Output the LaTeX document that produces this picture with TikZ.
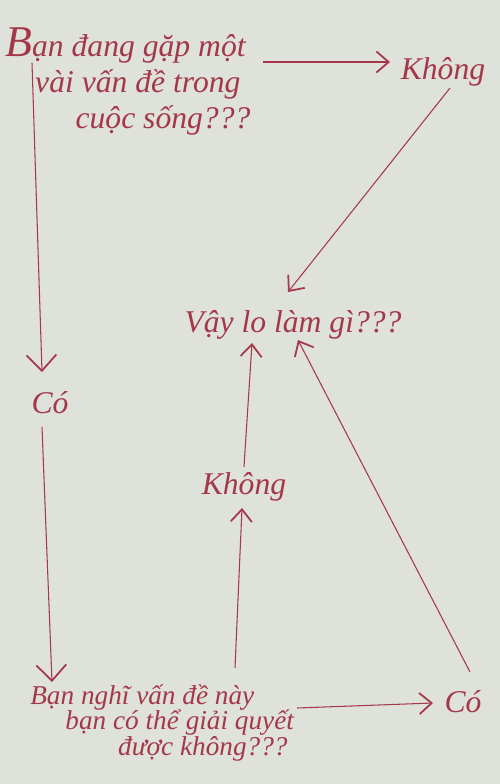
\documentclass[tikz,border=0pt]{standalone}
\usepackage{fontspec}
\setmainfont{Liberation Serif}
\usetikzlibrary{arrows.meta}
\definecolor{ink}{RGB}{165,55,75}
\definecolor{paper}{RGB}{222,226,219}
\newcommand\tightlines{\lineskiplimit=-20pt\relax\lineskip=0pt\relax}

\begin{document}
\begin{tikzpicture}[x=0.02cm, y=-0.02cm,
    txt/.style={inner sep=0pt, text=ink, font=\itshape\fontsize{18}{20.5}\selectfont},
    small/.style={font=\itshape\fontsize{15.5}{14.5}\selectfont\tightlines},
    flow/.style={draw=ink, line width=0.6pt, -{Straight Barb[length=7pt, width=12pt, line width=1pt]}},
    bigflow/.style={flow, -{Straight Barb[length=9pt, width=17pt, line width=1pt]}}]
    \fill [paper] (0,0) rectangle (500,784);
    \node [txt, anchor=north west, align=left] (q1) at (5,27)
        {{\fontsize{25}{25}\selectfont B}ạn đang gặp một\\
         \hspace*{17pt}vài vấn đề trong\\
         \hspace*{40pt}cuộc sống???};
    \node [txt] (no1) at (443,72) {Không};
    \node [txt] (why) at (293,325) {Vậy lo làm gì???};
    \node [txt] (yes1) at (50,403) {Có};
    \node [txt] (no2) at (244,487) {Không};
    \node [txt, small, anchor=north west, align=left] (q2) at (30,684)
        {Bạn nghĩ vấn đề này\\
         \hspace*{20pt}bạn có thể giải quyết\\
         \hspace*{50pt}được không???};
    \node [txt] (yes2) at (463,702) {Có};
    \draw [flow] ([shift={(258,35)}]q1.north west) -- ([shift={(-53,-10)}]no1.center);
    \draw [bigflow] ([shift={(27,36)}]q1.north west) -- ([shift={(-8,-31)}]yes1.center);
    \draw [flow] ([shift={(7,16)}]no1.center) -- ([shift={(-5,-33)}]why.center);
    \draw [bigflow] ([shift={(-8,24)}]yes1.center) -- ([shift={(22,-2)}]q2.north west);
    \draw [flow] ([shift={(205,-16)}]q2.north west) -- ([shift={(-2,21)}]no2.center);
    \draw [flow] ([shift={(0,-20)}]no2.center) -- ([shift={(-41,18)}]why.center);
    \draw [flow] ([shift={(267,24)}]q2.north west) -- ([shift={(-30,1)}]yes2.center);
    \draw [flow] ([shift={(7,-30)}]yes2.center) -- ([shift={(5,15)}]why.center);
\end{tikzpicture}
\end{document}
